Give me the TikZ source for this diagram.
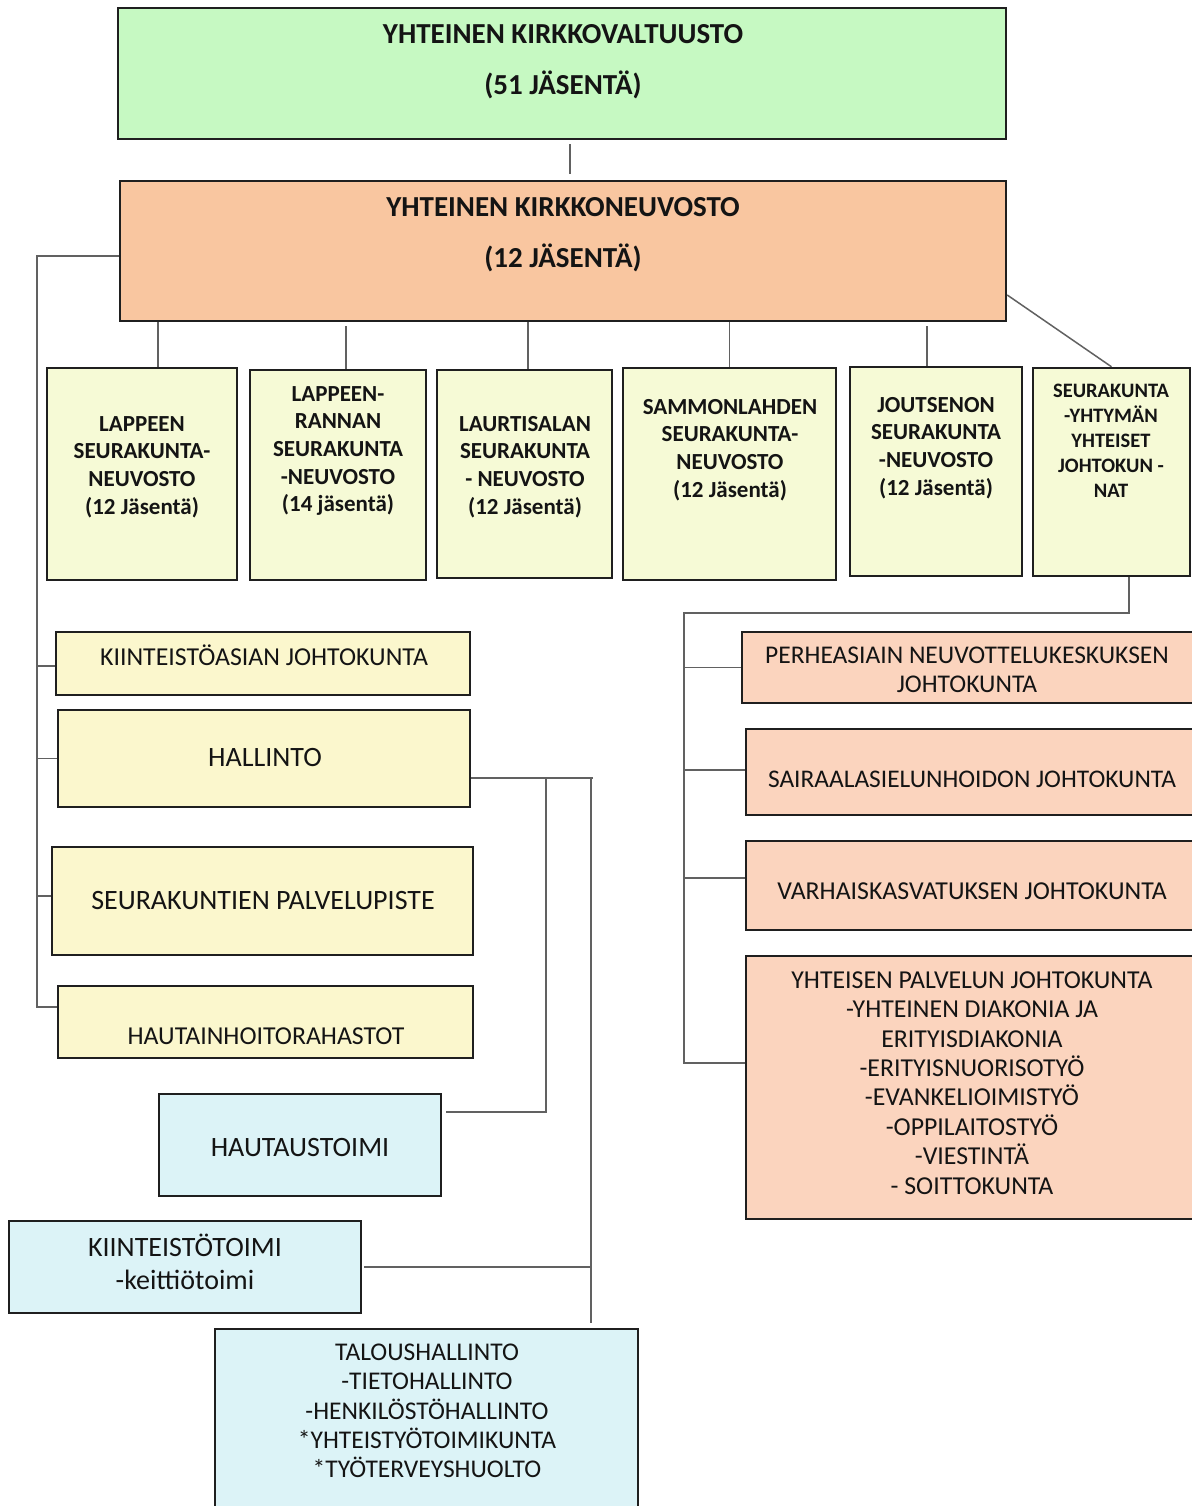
\documentclass[tikz,border=0pt]{standalone}
\usepackage{fontspec}
\setmainfont{Carlito}

\definecolor{kvgreen}{HTML}{C6F9C2}
\definecolor{knorange}{HTML}{F9C6A0}
\definecolor{rowyellow}{HTML}{F6FAD6}
\definecolor{leftyellow}{HTML}{FBF7CD}
\definecolor{rightsalmon}{HTML}{FBD4BE}
\definecolor{paleblue}{HTML}{DCF3F7}

\begin{document}
\begin{tikzpicture}[x=1pt,y=-1pt,
    box/.style={rectangle, draw=black!88, line width=2.4pt, inner sep=0pt},
    kvbox/.style={box, fill=kvgreen},
    knbox/.style={box, fill=knorange},
    rowbox/.style={box, fill=rowyellow},
    leftbox/.style={box, fill=leftyellow},
    rightbox/.style={box, fill=rightsalmon},
    bluebox/.style={box, fill=paleblue},
    conn/.style={draw=black!62, line width=1.5pt},
    txt/.style={align=center, inner sep=0pt, text=black!92},
    headtxt/.style={txt, font=\bfseries\fontsize{29}{51}\selectfont},
    rowtxt/.style={txt, font=\bfseries\fontsize{23}{27.7}\selectfont},
    rowsmall/.style={txt, font=\bfseries\fontsize{20.5}{25}\selectfont},
    plaintxt/.style={txt, font=\fontsize{25.8}{29.4}\selectfont},
    bigtxt/.style={txt, font=\fontsize{28}{33}\selectfont},
]
    \fill[white] (0,0) rectangle (1191,1506);
    \useasboundingbox (0,0) rectangle (1191,1506);

    % top
    \node[kvbox, minimum width=888, minimum height=131] (kv) at (562,73.5) {};
    \node[headtxt] (kv-t) at (563,62) {YHTEINEN KIRKKOVALTUUSTO\\(51 JÄSENTÄ)};
    \node[knbox, minimum width=886, minimum height=140] (kn) at (563,251) {};
    \node[headtxt] (kn-t) at (563,235) {YHTEINEN KIRKKONEUVOSTO\\(12 JÄSENTÄ)};

    % seurakuntaneuvostot
    \node[rowbox, minimum width=190, minimum height=212] (lappeen) at (142,474) {};
    \node[rowtxt] (lappeen-t) at (142,467) {LAPPEEN\\SEURAKUNTA-\\NEUVOSTO\\(12 Jäsentä)};
    \node[rowbox, minimum width=176, minimum height=210] (lrannan) at (338,475) {};
    \node[rowtxt] (lrannan-t) at (338,451) {LAPPEEN-\\RANNAN\\SEURAKUNTA\\-NEUVOSTO\\(14 jäsentä)};
    \node[rowbox, minimum width=175, minimum height=208] (laurt) at (524.5,474) {};
    \node[rowtxt] (laurt-t) at (525,467) {LAURTISALAN\\SEURAKUNTA\\- NEUVOSTO\\(12 Jäsentä)};
    \node[rowbox, minimum width=213, minimum height=212] (sammon) at (729.5,474) {};
    \node[rowtxt] (sammon-t) at (730,450) {SAMMONLAHDEN\\SEURAKUNTA-\\NEUVOSTO\\(12 Jäsentä)};
    \node[rowbox, minimum width=172, minimum height=209] (joutsen) at (936,471.5) {};
    \node[rowtxt] (joutsen-t) at (936,448) {JOUTSENON\\SEURAKUNTA\\-NEUVOSTO\\(12 Jäsentä)};
    \node[rowbox, minimum width=157, minimum height=208] (syk) at (1111.5,472) {};
    \node[rowsmall] (syk-t) at (1111,441) {SEURAKUNTA\\-YHTYMÄN\\YHTEISET\\JOHTOKUN -\\NAT};

    % vasen haara
    \node[leftbox, minimum width=414, minimum height=63] (kj) at (263,663.5) {};
    \node[plaintxt] (kj-t) at (264,655) {KIINTEISTÖASIAN JOHTOKUNTA};
    \node[leftbox, minimum width=412, minimum height=97] (hall) at (264,758.5) {};
    \node[bigtxt] (hall-t) at (265,758) {HALLINTO};
    \node[leftbox, minimum width=421, minimum height=108] (sp) at (262.5,901) {};
    \node[bigtxt] (sp-t) at (263,901) {SEURAKUNTIEN PALVELUPISTE};
    \node[leftbox, minimum width=415, minimum height=72] (hr) at (265.5,1022) {};
    \node[plaintxt] (hr-t) at (266,1036) {HAUTAINHOITORAHASTOT};

    \node[bluebox, minimum width=282, minimum height=102] (haut) at (300,1145) {};
    \node[bigtxt] (haut-t) at (300,1148) {HAUTAUSTOIMI};
    \node[bluebox, minimum width=352, minimum height=92] (kiint) at (185,1267) {};
    \node[bigtxt] (kiint-t) at (185,1262) {KIINTEISTÖTOIMI\\-keittiötoimi};
    \node[bluebox, minimum width=423, minimum height=186] (talous) at (426.5,1422) {};
    \node[plaintxt, font=\fontsize{25.5}{29.3}\selectfont] (talous-t) at (427,1411)
        {TALOUSHALLINTO\\-TIETOHALLINTO\\-HENKILÖSTÖHALLINTO\\*YHTEISTYÖTOIMIKUNTA\\*TYÖTERVEYSHUOLTO};

    % oikea haara
    \node[rightbox, minimum width=458, minimum height=71] (perhe) at (971,667.5) {};
    \node[plaintxt, font=\fontsize{25.5}{29}\selectfont] (perhe-t) at (967,670) {PERHEASIAIN NEUVOTTELUKESKUKSEN\\JOHTOKUNTA};
    \node[rightbox, minimum width=454, minimum height=86] (sair) at (973,772) {};
    \node[plaintxt, font=\fontsize{25.4}{29}\selectfont] (sair-t) at (972,779) {SAIRAALASIELUNHOIDON JOHTOKUNTA};
    \node[rightbox, minimum width=454, minimum height=89] (varh) at (973,885.5) {};
    \node[plaintxt] (varh-t) at (972,891) {VARHAISKASVATUKSEN JOHTOKUNTA};
    \node[rightbox, minimum width=454, minimum height=263] (yp) at (973,1087.5) {};
    \node[plaintxt, font=\fontsize{25.8}{29.4}\selectfont] (yp-t) at (972,1083)
        {YHTEISEN PALVELUN JOHTOKUNTA\\-YHTEINEN DIAKONIA JA\\ERITYISDIAKONIA\\-ERITYISNUORISOTYÖ\\-EVANKELIOIMISTYÖ\\-OPPILAITOSTYÖ\\-VIESTINTÄ\\- SOITTOKUNTA};

    % yhteydet
    \draw[conn, shorten >=6pt] ([xshift=8pt,yshift=-4pt]kv.south) -- ([xshift=8pt]kv.south |- kn.north);
    \draw[conn] ([xshift=16pt]lappeen.north) -- ([xshift=16pt]lappeen.north |- kn.south);
    \draw[conn, shorten >=4pt] ([xshift=8pt]lrannan.north) -- ([xshift=8pt]lrannan.north |- kn.south);
    \draw[conn] ([xshift=3.5pt]laurt.north) -- ([xshift=3.5pt]laurt.north |- kn.south);
    \draw[conn] (sammon.north) -- (sammon.north |- kn.south);
    \draw[conn, shorten >=4pt] ([xshift=-9pt]joutsen.north) -- ([xshift=-9pt]joutsen.north |- kn.south);
    \draw[conn] ([yshift=-44pt]kn.east) -- (syk.north);

    \coordinate (lb) at (37,256);
    \coordinate (lbot) at (37,1007);
    \draw[conn] ([yshift=-5pt]kn.west) -- (lb) -- (lbot) -- (lbot -| hr.west);
    \draw[conn] ([yshift=-2.5pt]kj.west -| lb) -- ([yshift=-2.5pt]kj.west);
    \draw[conn] (hall.west -| lb) -- (hall.west);
    \draw[conn] ([yshift=5pt]sp.west -| lb) -- ([yshift=5pt]sp.west);

    \coordinate (h1) at (546,778);
    \coordinate (h2) at (591,778);
    \draw[conn] ([yshift=-19.5pt]hall.east) -- ([xshift=2pt]h2);
    \draw[conn] (h1) |- ([xshift=4pt,yshift=33pt]haut.east);
    \draw[conn, shorten >=5pt] (h2) -- (h2 |- talous.north);
    \draw[conn, shorten <=2pt] (kiint.east) -- (kiint.east -| h2);

    \coordinate (rtop) at (684,613);
    \coordinate (rbot) at (684,1063);
    \draw[conn] ([xshift=17.5pt]syk.south) |- (rtop) -- (rbot) -- (rbot -| yp.west);
    \draw[conn] (perhe.west -| rtop) -- (perhe.west);
    \draw[conn] ([yshift=2pt]sair.west -| rtop) -- ([yshift=2pt]sair.west);
    \draw[conn] ([yshift=7.5pt]varh.west -| rtop) -- ([yshift=7.5pt]varh.west);
\end{tikzpicture}
\end{document}
